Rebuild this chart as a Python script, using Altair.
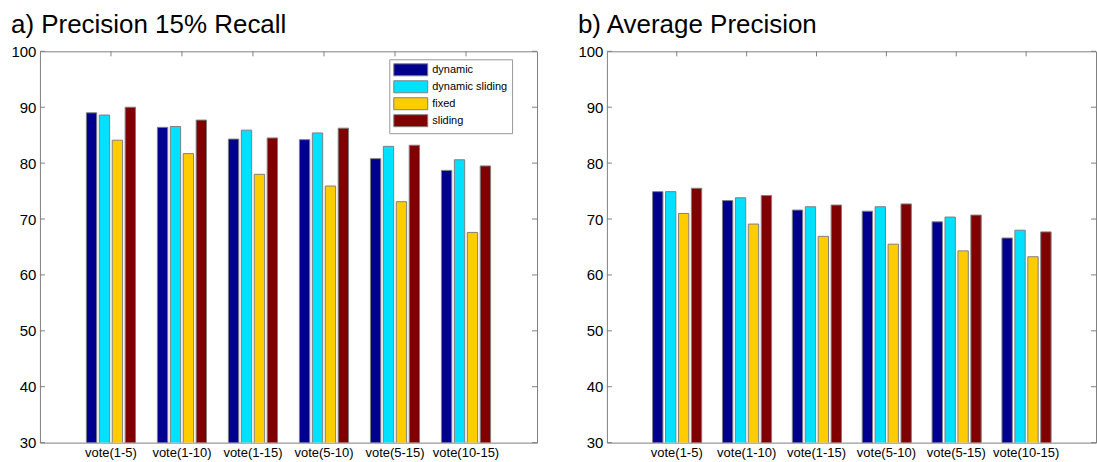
import altair as alt
import pandas as pd

categories = ["vote(1-5)", "vote(1-10)", "vote(1-15)", "vote(5-10)", "vote(5-15)", "vote(10-15)"]
series = ["dynamic", "dynamic sliding", "fixed", "sliding"]
colors = ["#00008F", "#00E0FF", "#FFCC00", "#800000"]
y_ticks = [30, 40, 50, 60, 70, 80, 90, 100]

# a) Precision at 15% recall
p15_dynamic = [89.0, 86.4, 84.3, 84.2, 80.8, 78.7]
p15_dynamic_sliding = [88.6, 86.55, 85.9, 85.4, 83.0, 80.6]
p15_fixed = [84.1, 81.7, 78.0, 75.9, 73.1, 67.6]
p15_sliding = [90.0, 87.7, 84.5, 86.25, 83.2, 79.5]

# b) Average precision
ap_dynamic = [74.9, 73.3, 71.6, 71.4, 69.5, 66.6]
ap_dynamic_sliding = [74.9, 73.8, 72.2, 72.2, 70.35, 68.0]
ap_fixed = [71.0, 69.1, 66.9, 65.5, 64.3, 63.25]
ap_sliding = [75.5, 74.2, 72.5, 72.7, 70.7, 67.7]

FONT = "Liberation Sans"
FRAME = "#808080"
H = 392


def long_df(cols):
    rows = []
    for s, vals in zip(series, cols):
        for c, v in zip(categories, vals):
            rows.append({"category": c, "series": s, "value": v})
    return pd.DataFrame(rows)


def panel(cols, title, width, lx, ly):
    df = long_df(cols)
    xscale = alt.Scale(domain=categories, paddingInner=0.308, paddingOuter=0.654)
    yscale = alt.Scale(domain=[30, 100], zero=False, nice=False)
    x_axis = alt.Axis(title=None, labelFontSize=13, labelFont=FONT, labelColor="black",
                      ticks=False, domain=False, labelPadding=4, labelAngle=0)
    y_axis = alt.Axis(values=y_ticks, title=None, ticks=False, domain=False, grid=False,
                      labelFontSize=15, labelFont=FONT, labelPadding=4, labelColor="black")
    bars = alt.Chart(df).mark_bar(stroke=FRAME, strokeWidth=1, clip=True).encode(
        x=alt.X("category:N", sort=categories, scale=xscale, axis=x_axis),
        xOffset=alt.XOffset("series:N", sort=series,
                            scale=alt.Scale(domain=series, paddingInner=0.2, paddingOuter=0)),
        y=alt.Y("value:Q", scale=yscale, axis=y_axis),
        color=alt.Color("series:N", sort=series, scale=alt.Scale(domain=series, range=colors),
                        legend=alt.Legend(title=None, orient="none", legendX=lx, legendY=ly,
                                          symbolType="M-1,-1H4.667V1H-1Z", symbolSize=144,
                                          symbolStrokeColor=FRAME, symbolStrokeWidth=1,
                                          symbolOpacity=1,
                                          labelFontSize=11, labelFont=FONT, labelColor="black",
                                          labelOffset=26, rowPadding=0, padding=4,
                                          strokeColor="#999999", fillColor="white",
                                          cornerRadius=0)),
    )
    tdf = pd.DataFrame({"value": y_ticks})
    left_ticks = alt.Chart(tdf).mark_rule(color=FRAME).encode(
        y=alt.Y("value:Q", scale=yscale, axis=y_axis), x=alt.value(0), x2=alt.value(5))
    right_ticks = alt.Chart(tdf).mark_rule(color=FRAME).encode(
        y=alt.Y("value:Q", scale=yscale, axis=y_axis), x=alt.value(width - 5), x2=alt.value(width))
    cdf = pd.DataFrame({"category": categories})
    top_ticks = alt.Chart(cdf).mark_rule(color=FRAME).encode(
        x=alt.X("category:N", sort=categories, scale=xscale, bandPosition=0.5, axis=x_axis),
        y=alt.value(0), y2=alt.value(5))
    return alt.layer(bars, left_ticks, right_ticks, top_ticks).properties(
        width=width, height=H,
        title=alt.TitleParams(title, anchor="start", frame="bounds", fontSize=26, font=FONT,
                              fontWeight="normal", color="black", offset=6),
    )


left = panel([p15_dynamic, p15_dynamic_sliding, p15_fixed, p15_sliding],
             "a) Precision 15% Recall", 498, 350, 8)
right = panel([ap_dynamic, ap_dynamic_sliding, ap_fixed, ap_sliding],
              "b) Average Precision", 490, 367, 6)

chart = alt.hconcat(left, right, spacing=39).properties(
    padding={"left": 10, "top": 11, "right": 0, "bottom": 0},
    background="white",
).configure_view(stroke=FRAME, strokeWidth=1)

chart.save("out.html", embed_options={"renderer": "svg", "actions": False})
